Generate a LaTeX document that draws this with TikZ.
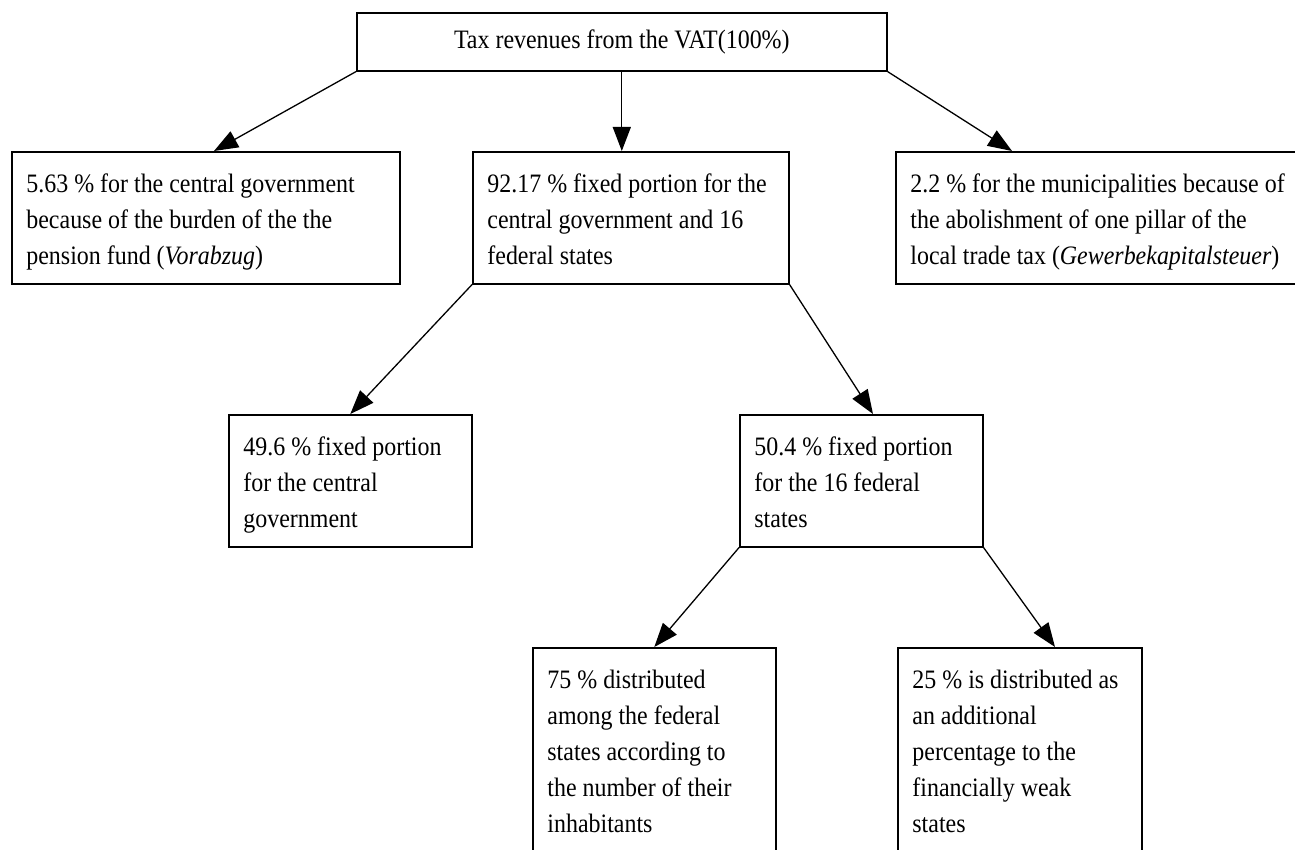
\documentclass[tikz,border=0pt]{standalone}
\usepackage{fontspec}
\setmainfont{Liberation Serif}
\newfontfamily\cfont[FakeStretch=0.9]{Liberation Serif}
\usetikzlibrary{arrows.meta,calc}
\begin{document}
\begin{tikzpicture}[x=0.5pt,y=-0.5pt,
  box/.style={draw, line width=0.8pt, inner sep=0pt, anchor=north west},
  txt/.style={anchor=north west, inner sep=0pt, align=left, font=\cfont\fontsize{13.3}{18}\selectfont},
  arr/.style={line width=0.65pt, -{Triangle[length=12pt,width=9pt]}}]
\useasboundingbox (0,0) rectangle (1295,850);
\clip (0,0) rectangle (1295,850);
% boxes
\node[box, minimum width=265pt, minimum height=29pt] (T) at (356,12) {};
\node[box, minimum width=194pt, minimum height=66pt] (L) at (11,151) {};
\node[box, minimum width=158pt, minimum height=66pt] (M) at (472,151) {};
\node[box, minimum width=240pt, minimum height=66pt] (R) at (895,151) {};
\node[box, minimum width=121.5pt, minimum height=66pt] (A) at (228,414) {};
\node[box, minimum width=121.5pt, minimum height=66pt] (B) at (739,414) {};
\node[box, minimum width=121.5pt, minimum height=125pt] (C) at (532,647) {};
\node[box, minimum width=122pt, minimum height=125pt] (D) at (897,647) {};
% texts
\node[font=\cfont\fontsize{13.3}{18}\selectfont, inner sep=0pt] (Tt) at (T.center) {Tax revenues from the VAT(100\%)};
\node[txt] (Lt) at ($(L.north west)+(15,16)$) {\strut 5.63 \% for the central government\\because of the burden of the the\\pension fund (\textit{Vorabzug})};
\node[txt] (Mt) at ($(M.north west)+(15,16)$) {\strut 92.17 \% fixed portion for the\\central government and 16\\federal states};
\node[txt] (Rt) at ($(R.north west)+(15,16)$) {\strut 2.2 \% for the municipalities because of\\the abolishment of one pillar of the\\local trade tax (\textit{Gewerbekapitalsteuer})};
\node[txt] (At) at ($(A.north west)+(15,16)$) {\strut 49.6 \% fixed portion\\for the central\\government};
\node[txt] (Bt) at ($(B.north west)+(15,16)$) {\strut 50.4 \% fixed portion\\for the 16 federal\\states};
\node[txt] (Ct) at ($(C.north west)+(15,16)$) {\strut 75 \% distributed\\among the federal\\states according to\\the number of their\\inhabitants};
\node[txt] (Dt) at ($(D.north west)+(15,16)$) {\strut 25 \% is distributed as\\an additional\\percentage to the\\financially weak\\states};
% arrows
\draw[arr] (T.south west) -- ($(L.north west)+(203,0)$);
\draw[arr] (T.south) -- (T.south |- M.north);
\draw[arr] (T.south east) -- ($(R.north west)+(117,0)$);
\draw[arr] (M.south west) -- (A.north);
\draw[arr] (M.south east) -- ($(B.north west)+(134,0)$);
\draw[arr] (B.south west) -- (C.north);
\draw[arr] (B.south east) -- ($(D.north west)+(158,0)$);
\end{tikzpicture}
\end{document}
